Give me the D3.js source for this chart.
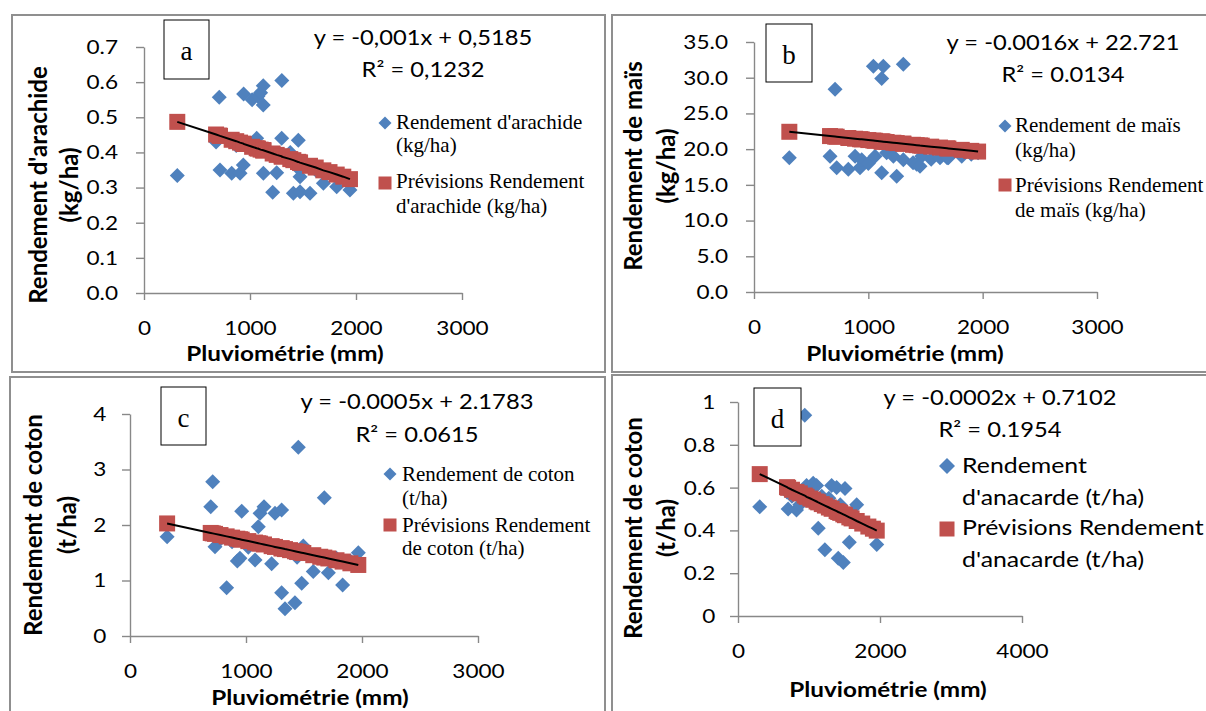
<!DOCTYPE html>
<html>
<head>
<meta charset="utf-8">
<script src="https://cdn.jsdelivr.net/npm/d3@7"></script>
<style>
body { margin: 0; background: #fff; }
svg { display: block; }
.frame { fill: none; stroke: #8f8f8f; stroke-width: 2; }
.axis path, .axis line { stroke: #888; stroke-width: 1.4; }
.axis text { font-family: Lato, "Open Sans", sans-serif; font-size: 20px; fill: #000; }
.sans { font-family: Lato, "Open Sans", sans-serif; fill: #000; }
.serif { font-family: "Liberation Serif", "Times New Roman", serif; fill: #000; }
.eq { font-size: 21px; }
.title { font-size: 21.5px; font-weight: bold; }
.ytitle { font-size: 24px; font-weight: bold; }
.leg { font-size: 21px; }
.legsans { font-size: 22px; }
.letter { font-size: 27px; }
</style>
</head>
<body>
<svg id="chart" width="1206" height="711"></svg>
<script>

// ---- data ----
var aRain  = [314, 680, 710, 717, 827, 870, 906, 937, 940, 1020, 1063, 1075, 1100, 1125, 1125, 1126, 1214, 1252, 1299, 1300, 1380, 1409, 1453, 1456, 1472, 1472, 1566, 1620, 1692, 1750, 1818, 1880, 1943];
var aYield = [0.334, 0.430, 0.557, 0.350, 0.341, 0.420, 0.341, 0.364, 0.566, 0.550, 0.440, 0.560, 0.570, 0.590, 0.535, 0.341, 0.287, 0.342, 0.440, 0.605, 0.400, 0.284, 0.356, 0.435, 0.288, 0.331, 0.284, 0.350, 0.312, 0.340, 0.302, 0.330, 0.293];
var aPred  = [0.487, 0.451, 0.448, 0.447, 0.436, 0.432, 0.428, 0.425, 0.424, 0.416, 0.412, 0.411, 0.408, 0.406, 0.406, 0.406, 0.397, 0.393, 0.389, 0.388, 0.381, 0.378, 0.373, 0.373, 0.371, 0.371, 0.362, 0.357, 0.349, 0.344, 0.337, 0.331, 0.324];

var bRain  = [309, 665, 709, 723, 825, 884, 927, 942, 1000, 1044, 1059, 1117, 1117, 1131, 1160, 1219, 1248, 1306, 1306, 1391, 1423, 1452, 1467, 1550, 1627, 1689, 1700, 1817, 1900, 1960];
var bYield = [18.8, 19.0, 28.4, 17.4, 17.2, 19.0, 17.4, 18.5, 18.0, 31.6, 19.0, 29.9, 16.7, 31.6, 19.5, 19.0, 16.2, 31.9, 18.5, 18.1, 17.9, 17.6, 19.0, 18.6, 18.8, 18.8, 18.8, 19.0, 19.3, 19.5];
var bPred  = [22.43, 21.83, 21.76, 21.74, 21.56, 21.46, 21.39, 21.37, 21.27, 21.20, 21.17, 21.07, 21.07, 21.05, 21.00, 20.90, 20.85, 20.76, 20.76, 20.61, 20.56, 20.51, 20.49, 20.35, 20.22, 20.11, 20.09, 19.90, 19.76, 19.66];

var cRain  = [320, 696, 713, 733, 780, 833, 880, 925, 948, 963, 1020, 1078, 1106, 1121, 1155, 1221, 1250, 1307, 1307, 1336, 1380, 1422, 1440, 1451, 1480, 1494, 1580, 1640, 1675, 1710, 1780, 1833, 1900, 1968];
var cYield = [1.79, 2.33, 2.78, 1.61, 1.75, 0.87, 1.70, 1.35, 1.40, 2.25, 1.60, 1.37, 1.97, 2.21, 2.33, 1.30, 2.21, 2.27, 0.78, 0.49, 1.50, 0.60, 1.42, 3.40, 0.95, 1.62, 1.16, 1.45, 2.49, 1.14, 1.40, 0.92, 1.35, 1.50];
var cPred  = [2.028, 1.857, 1.849, 1.840, 1.819, 1.795, 1.773, 1.753, 1.743, 1.736, 1.710, 1.684, 1.671, 1.664, 1.649, 1.619, 1.605, 1.580, 1.580, 1.566, 1.547, 1.527, 1.519, 1.514, 1.501, 1.495, 1.456, 1.428, 1.413, 1.397, 1.365, 1.341, 1.310, 1.280];

var dRain  = [306, 690, 706, 760, 824, 870, 940, 966, 1020, 1059, 1107, 1130, 1180, 1224, 1280, 1319, 1389, 1412, 1440, 1483, 1507, 1568, 1600, 1672, 1750, 1836, 1900, 1954];
var dYield = [0.51, 0.58, 0.50, 0.56, 0.495, 0.52, 0.938, 0.61, 0.58, 0.62, 0.61, 0.41, 0.56, 0.31, 0.55, 0.61, 0.60, 0.27, 0.52, 0.25, 0.596, 0.345, 0.48, 0.52, 0.44, 0.41, 0.40, 0.334];
var dPred  = [0.663, 0.602, 0.599, 0.590, 0.580, 0.573, 0.563, 0.557, 0.549, 0.543, 0.535, 0.531, 0.523, 0.516, 0.507, 0.501, 0.490, 0.486, 0.482, 0.475, 0.471, 0.461, 0.456, 0.444, 0.432, 0.418, 0.408, 0.399];

// ticks
var xTicks3k = [0, 1000, 2000, 3000];
var xTicks4k = [0, 2000, 4000];
var aYTicks = [0, 0.1, 0.2, 0.3, 0.4, 0.5, 0.6, 0.7];
var bYTicks = [0, 5, 10, 15, 20, 25, 30, 35];
var cYTicks = [0, 1, 2, 3, 4];
var dYTicks = [0, 0.2, 0.4, 0.6, 0.8, 1];

// texts
var aEq = ["y = -0,001x + 0,5185", "R² = 0,1232"];
var bEq = ["y = -0.0016x + 22.721", "R² = 0.0134"];
var cEq = ["y = -0.0005x + 2.1783", "R² = 0.0615"];
var dEq = ["y = -0.0002x + 0.7102", "R² = 0.1954"];

var aLegend = [["Rendement d'arachide", "(kg/ha)"], ["Prévisions Rendement", "d'arachide (kg/ha)"]];
var bLegend = [["Rendement de maïs", "(kg/ha)"], ["Prévisions Rendement", "de maïs (kg/ha)"]];
var cLegend = [["Rendement de coton", "(t/ha)"], ["Prévisions Rendement", "de coton (t/ha)"]];
var dLegend = [["Rendement", "d'anacarde (t/ha)"], ["Prévisions Rendement", "d'anacarde (t/ha)"]];

var aYTitle = ["Rendement d'arachide", "(kg/ha)"];
var bYTitle = ["Rendement de maïs", "(kg/ha)"];
var cYTitle = ["Rendement de coton", "(t/ha)"];
var dYTitle = ["Rendement de coton", "(t/ha)"];
var xTitle = "Pluviométrie (mm)";

var blue = "#4f81bd", red = "#c0504d";
var SX = 1.13; // the picture is a little wider than tall

var svg = d3.select("#chart");

var panels = [
	{ letter: "a", rain: aRain, obs: aYield, pred: aPred, xTicks: xTicks3k, yTicks: aYTicks, yFmt: d3.format(".1f"),
	  eq: aEq, legend: aLegend, yTitle: aYTitle,
	  frame: [12, 15, 593, 357], xr: [144, 462], yr: [293, 47], yPad: 15,
	  box: [164, 20, 45, 59], eqX: 423, eqY: [45, 77],
	  legX: 385, legTX: 396, legY: [[129, 152], [188, 213]], legMarkY: [123, 183], legSans: false,
	  yTitleY: 185, yTitleX: [47, 78], xTitleX: 285, xTitleY: 361 },
	{ letter: "b", rain: bRain, obs: bYield, pred: bPred, xTicks: xTicks3k, yTicks: bYTicks, yFmt: d3.format(".1f"),
	  eq: bEq, legend: bLegend, yTitle: bYTitle,
	  frame: [612, 15, 600, 357], xr: [754, 1097], yr: [292, 42], yPad: 15,
	  box: [766, 24, 46, 58], eqX: 1063, eqY: [50, 82],
	  legX: 1005, legTX: 1015, legY: [[132, 157], [192, 217]], legMarkY: [126, 185], legSans: false,
	  yTitleY: 166, yTitleX: [642, 675], xTitleX: 905, xTitleY: 361 },
	{ letter: "c", rain: cRain, obs: cYield, pred: cPred, xTicks: xTicks3k, yTicks: cYTicks, yFmt: d3.format("d"),
	  eq: cEq, legend: cLegend, yTitle: cYTitle,
	  frame: [10, 377, 595, 340], xr: [130, 478], yr: [636, 414], yPad: 13,
	  box: [161, 387, 45, 58], eqX: 417, eqY: [409, 442],
	  legX: 390, legTX: 402, legY: [[481, 505], [532, 555]], legMarkY: [474, 525], legSans: false,
	  yTitleY: 525, yTitleX: [42, 76], xTitleX: 310, xTitleY: 705 },
	{ letter: "d", rain: dRain, obs: dYield, pred: dPred, xTicks: xTicks4k, yTicks: dYTicks, yFmt: d3.format("~g"),
	  eq: dEq, legend: dLegend, yTitle: dYTitle,
	  frame: [612, 375, 600, 340], xr: [738, 1022], yr: [616, 402], yPad: 12,
	  box: [754, 388, 47, 58], eqX: 1000, eqY: [405, 437],
	  legX: 947, legTX: 962, legY: [[473, 505], [535, 567]], legMarkY: [466, 529], legSans: true,
	  yTitleY: 528, yTitleX: [642, 675], xTitleX: 888, xTitleY: 697 }
];

function diamond(r) {
	return "M0," + (-r) + "L" + r + ",0L0," + r + "L" + (-r) + ",0Z";
}

function stretched(g, x, y, s, cls, anchor) {
	return g.append("text")
		.attr("class", cls)
		.attr("transform", "translate(" + x + "," + y + ") scale(" + SX + ",1)")
		.attr("text-anchor", anchor || "start")
		.text(s);
}

function drawPanel(p) {
	var g = svg.append("g");

	g.append("rect").attr("class", "frame")
		.attr("x", p.frame[0]).attr("y", p.frame[1])
		.attr("width", p.frame[2]).attr("height", p.frame[3]);

	var x = d3.scaleLinear().domain([0, d3.max(p.xTicks)]).range(p.xr);
	var y = d3.scaleLinear().domain([0, d3.max(p.yTicks)]).range(p.yr);

	var xAxis = g.append("g")
		.attr("class", "axis")
		.attr("transform", "translate(0," + p.yr[0] + ")")
		.call(d3.axisBottom(x).tickValues(p.xTicks).tickSize(7).tickSizeOuter(0).tickPadding(21).tickFormat(d3.format("d")));
	xAxis.selectAll("text").attr("transform", "scale(" + SX + ",1)");

	var yAxis = g.append("g")
		.attr("class", "axis")
		.attr("transform", "translate(" + p.xr[0] + ",0)")
		.call(d3.axisLeft(y).tickValues(p.yTicks).tickSize(8).tickSizeOuter(0).tickPadding(p.yPad).tickFormat(p.yFmt));
	yAxis.selectAll("text").attr("transform", "scale(" + SX + ",1)");

	var idx = d3.range(p.rain.length);

	g.selectAll(".obs")
		.data(idx)
		.enter().append("path")
		.attr("class", "obs")
		.attr("d", diamond(7.5))
		.attr("transform", function(i) { return "translate(" + x(p.rain[i]) + "," + y(p.obs[i]) + ")"; })
		.attr("fill", blue);

	g.selectAll(".pred")
		.data(idx)
		.enter().append("rect")
		.attr("class", "pred")
		.attr("x", function(i) { return x(p.rain[i]) - 8; })
		.attr("y", function(i) { return y(p.pred[i]) - 8; })
		.attr("width", 16)
		.attr("height", 16)
		.attr("fill", red);

	g.append("path")
		.datum(idx)
		.attr("d", d3.line().x(function(i) { return x(p.rain[i]); }).y(function(i) { return y(p.pred[i]); }))
		.attr("fill", "none")
		.attr("stroke", "#000")
		.attr("stroke-width", 2);

	// letter box
	g.append("rect")
		.attr("x", p.box[0]).attr("y", p.box[1])
		.attr("width", p.box[2]).attr("height", p.box[3])
		.attr("fill", "#fff").attr("stroke", "#000").attr("stroke-width", 1);
	g.append("text").attr("class", "serif letter")
		.attr("x", p.box[0] + p.box[2] / 2).attr("y", p.box[1] + 40)
		.attr("text-anchor", "middle")
		.text(p.letter);

	// equation
	stretched(g, p.eqX, p.eqY[0], p.eq[0], "sans eq", "middle");
	stretched(g, p.eqX, p.eqY[1], p.eq[1], "sans eq", "middle");

	// legend
	var big = p.legSans;
	g.append("path")
		.attr("d", diamond(big ? 8 : 6.5))
		.attr("transform", "translate(" + p.legX + "," + p.legMarkY[0] + ")")
		.attr("fill", blue);
	var sq = big ? 15 : 13;
	g.append("rect")
		.attr("x", p.legX - sq / 2).attr("y", p.legMarkY[1] - sq / 2)
		.attr("width", sq).attr("height", sq)
		.attr("fill", red);
	p.legend.forEach(function(lines, k) {
		lines.forEach(function(s, j) {
			if (big) {
				stretched(g, p.legTX, p.legY[k][j], s, "sans legsans");
			} else {
				g.append("text").attr("class", "serif leg")
					.attr("x", p.legTX).attr("y", p.legY[k][j])
					.text(s);
			}
		});
	});

	// axis titles
	p.yTitle.forEach(function(s, j) {
		g.append("text").attr("class", "sans ytitle")
			.attr("transform", "translate(" + p.yTitleX[j] + "," + p.yTitleY + ") rotate(-90)")
			.attr("text-anchor", "middle")
			.text(s);
	});
	stretched(g, p.xTitleX, p.xTitleY, xTitle, "sans title", "middle");
}

panels.forEach(drawPanel);

</script>
</body>
</html>
